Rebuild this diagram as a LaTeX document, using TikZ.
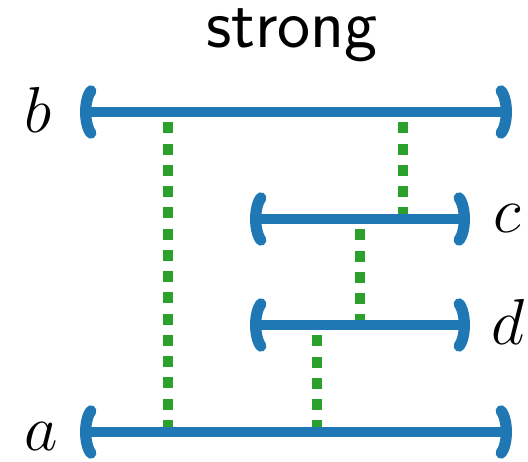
\documentclass[tikz,border=0pt]{standalone}
\usepackage{fix-cm}
\usetikzlibrary{arrows.meta, positioning}
\definecolor{tabblue}{RGB}{31, 119, 180}
\definecolor{tabgreen}{RGB}{44, 160, 44}

\begin{document}
\begin{tikzpicture}[x=0.02cm, y=-0.02cm,
    interval/.style={draw=tabblue, line width=5.8pt, {Parenthesis[round, width=1.2cm, length=0.32cm, line width=0.6pt 1]}-{Parenthesis[round, width=1.2cm, length=0.32cm, line width=0.6pt 1]}},
    overlap/.style={draw=tabgreen, line width=6.2pt, dash pattern=on 6.2pt off 5.9pt, dash phase=6.2pt},
    lbl/.style={font=\fontsize{37}{42}\selectfont, anchor=base, inner sep=0pt}]
  \useasboundingbox (0,0) rectangle (528,462);
  \node[font=\fontsize{40}{46}\selectfont\sffamily, anchor=base, inner sep=0pt] (title) at (292,48) {strong};
  % interval ends
  \coordinate (bL) at (80,112);  \coordinate (bR) at (512,112);
  \coordinate (cL) at (250,219); \coordinate (cR) at (470,219);
  \coordinate (dL) at (250,325); \coordinate (dR) at (470,325);
  \coordinate (aL) at (80,432);  \coordinate (aR) at (512,432);
  % overlap links
  \coordinate (ba) at (168,112);  \coordinate (ab) at (168,432);
  \coordinate (bc) at (403,112);  \coordinate (cb) at (403,219);
  \coordinate (cd) at (360,219);  \coordinate (dc) at (360,325);
  \coordinate (da) at (317,325);  \coordinate (ad) at (317,432);
  \draw[overlap] (ba) -- (ab);
  \draw[overlap] (bc) -- (cb);
  \draw[overlap] (cd) -- (dc);
  \draw[overlap] (da) -- (ad);
  \draw[interval] (bL) -- (bR);
  \draw[interval] (cL) -- (cR);
  \draw[interval] (dL) -- (dR);
  \draw[interval] (aL) -- (aR);
  \node[lbl] (b) at (38,133) {$b$};
  \node[lbl] (c) at (507,233) {$c$};
  \node[lbl] (d) at (508,345) {$d$};
  \node[lbl] (a) at (41,451) {$a$};
\end{tikzpicture}
\end{document}
